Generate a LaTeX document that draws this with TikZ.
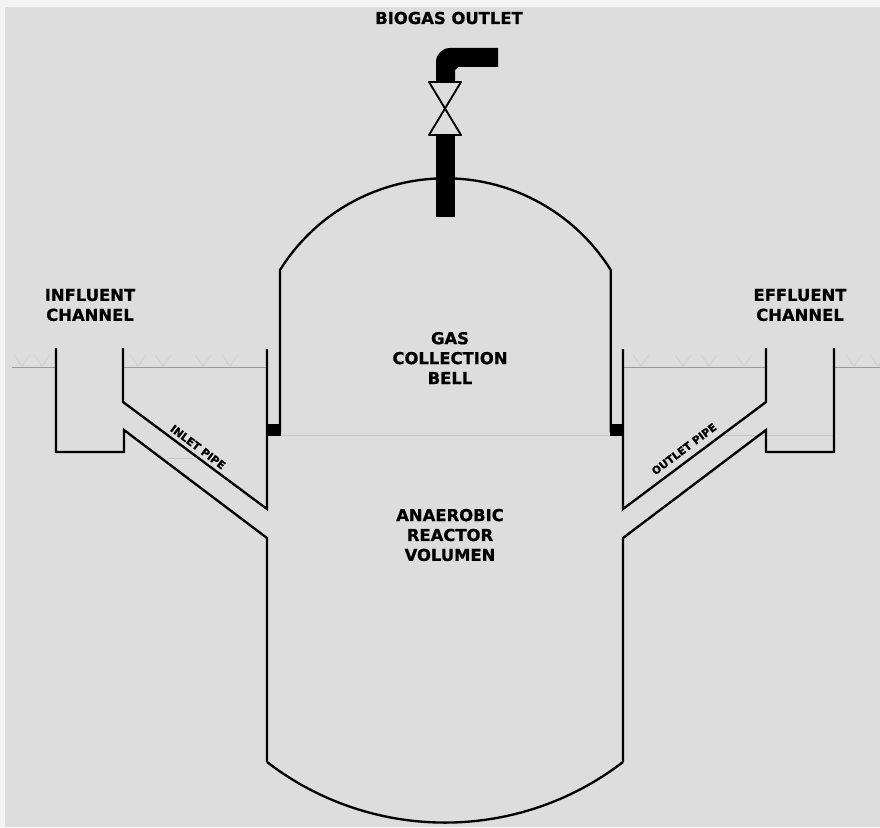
\documentclass[tikz,border=0pt]{standalone}
\usepackage{fontspec}
\setmainfont[BoldFeatures={FakeBold=0.8}]{DejaVu Sans}
\usetikzlibrary{positioning}
\definecolor{sheet}{HTML}{DDDDDD}
\definecolor{margin}{HTML}{F3F3F3}
\tikzset{
  wall/.style={black, line width=2pt, line join=miter},
  level/.style={gray!80, line width=1pt},
  faintlevel/.style={gray!45, line width=0.8pt},
  tick/.style={gray!34, line width=1pt},
  label/.style={font=\bfseries\fontsize{14}{17}\selectfont, text=black, align=center},
  pipelabel/.style={font=\bfseries\fontsize{9.2}{11}\selectfont, text=black}
}
\begin{document}
\begin{tikzpicture}[scale=0.3]
    \tikzstyle{every node}+=[inner sep=0pt]
    \useasboundingbox (0,0) rectangle (88,-82.7);
    % background
    \fill [margin] (0,0) rectangle (88,-82.7);
    \fill [sheet] (0.5,-0.7) rectangle (88,-82.7);
    % grass marks
    \foreach \x in {2.2,4.2,13.8,16.3,20.3,23,64.1,68.3,70.9,74.4,85.4,87.8}
      \draw [tick] (\x-0.8,-35.5) -- (\x,-36.6) -- (\x+0.8,-35.5);
    % ground and liquid levels
    \draw [level] (1.2,-36.75) -- (5.6,-36.75);
    \draw [level] (12.3,-36.75) -- (26.7,-36.75);
    \draw [level] (62.3,-36.75) -- (76.6,-36.75);
    \draw [level] (83.4,-36.75) -- (88,-36.75);
    \draw [faintlevel] (28.1,-43.5) -- (61,-43.5);
    \draw [faintlevel] (72.3,-43.5) -- (83.4,-43.5);
    \draw [faintlevel] (16.7,-45.8) -- (19.3,-45.8);
    % bell
    \draw [wall] (28,-43.2) -- (28,-27) arc (148:32:19.5) -- ++(0,-16.2);
    \fill [black] (26.7,-42.4) rectangle (28.1,-43.6);
    \fill [black] (61,-42.4) rectangle (62.3,-43.6);
    % reactor and inlet side
    \draw [wall] (26.7,-34.9) -- (26.7,-50.9) -- (12.3,-40.2) -- (12.3,-34.8);
    \draw [wall] (5.6,-34.8) -- (5.6,-45.2) -- (12.4,-45.2) -- (12.4,-43) -- (26.7,-53.8) -- (26.7,-76.2);
    % reactor and outlet side
    \draw [wall] (62.3,-34.9) -- (62.3,-50.9) -- (76.6,-40.2) -- (76.6,-34.8);
    \draw [wall] (83.4,-34.8) -- (83.4,-45.2) -- (76.6,-45.2) -- (76.6,-43) -- (62.3,-53.8) -- (62.3,-76.2);
    % bottom
    \draw [wall] (26.7,-76.2) arc (232.4:307.6:29.17);
    % gas pipe and valve
    \fill [black] (43.6,-13.5) rectangle (45.5,-21.7);
    \fill [black] (43.6,-8.2) -- (43.6,-6.2) arc (180:90:1.4) -- (49.8,-4.8) -- (49.8,-6.7)
        -- (45.8,-6.7) -- (45.5,-7) -- (45.5,-8.2) -- cycle;
    \draw [black, line width=1.6pt, line join=round] (42.9,-8.2) -- (46.1,-8.2) -- (42.9,-13.5) -- (46.1,-13.5) -- cycle;
    % labels
    \node [label] (outlet) at (44.9,-1.8) {BIOGAS OUTLET};
    \node [label] (influent) at (9,-30.5) {INFLUENT\\CHANNEL};
    \node [label] (effluent) at (80,-30.5) {EFFLUENT\\CHANNEL};
    \node [label] (bell) at (45,-35.8) {GAS\\COLLECTION\\BELL};
    \node [label] (reactor) at (45,-53.5) {ANAEROBIC\\REACTOR\\VOLUMEN};
    \node [pipelabel, rotate=-37] (inlet) at (19.8,-44.7) {INLET PIPE};
    \node [pipelabel, rotate=37] (outletpipe) at (68.4,-44.9) {OUTLET PIPE};
\end{tikzpicture}
\end{document}
